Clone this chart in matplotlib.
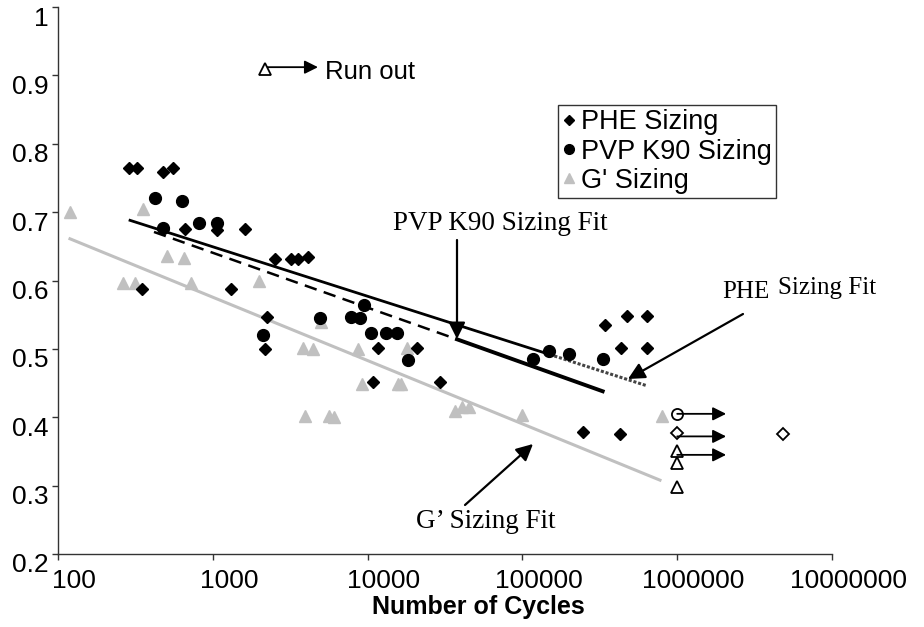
import matplotlib
matplotlib.use("Agg")
import matplotlib.pyplot as plt
import matplotlib.transforms as mtransforms
from matplotlib.lines import Line2D

# PHE sizing (black diamonds)
phe_x = [289, 322, 479, 551, 475, 661, 1060, 1615, 350, 1311, 2533, 3200, 3568, 4103,
         2229, 2175, 11620, 10890, 20760, 29370, 341800, 472000, 635000, 431500, 635000,
         247400, 427000]
phe_y = [0.764, 0.764, 0.759, 0.764, 0.675, 0.675, 0.674, 0.676, 0.587, 0.587, 0.632, 0.632,
         0.632, 0.634, 0.547, 0.500, 0.502, 0.451, 0.501, 0.452, 0.535, 0.548, 0.548, 0.502,
         0.501, 0.379, 0.375]

# PVP K90 sizing (black circles)
pvp_x = [421, 635, 475, 818, 1060, 2100, 4927, 7780, 8930, 9520, 10470, 13150, 15420, 18320,
         117500, 149200, 200000, 330000]
pvp_y = [0.721, 0.717, 0.677, 0.684, 0.684, 0.521, 0.545, 0.547, 0.545, 0.564, 0.523, 0.523,
         0.523, 0.484, 0.485, 0.497, 0.493, 0.485]

# G' sizing (grey triangles)
g_x = [120, 352, 508, 654, 264, 314, 723, 1996, 4978, 3843, 4460, 8710, 9240, 15790, 3940,
       5656, 6067, 18040, 16360, 36700, 40550, 45400, 99800, 801000]
g_y = [0.700, 0.704, 0.636, 0.633, 0.596, 0.596, 0.597, 0.599, 0.539, 0.501, 0.500, 0.500,
       0.448, 0.448, 0.402, 0.402, 0.400, 0.501, 0.448, 0.409, 0.415, 0.415, 0.403, 0.402]

# fit lines (end points, plus the point where the line style changes)
phe_fit_x = [292, 140000, 638000]
phe_fit_y = [0.688, 0.494, 0.446]
pvp_fit_x = [417, 37800, 330000]
pvp_fit_y = [0.671, 0.514, 0.438]
g_fit_x = [119.5, 774000]
g_fit_y = [0.661, 0.308]

# run-out specimens (open markers)
runout_circle_x = [1e6]
runout_circle_y = [0.405]
runout_diamond_x = [1e6, 4.85e6]
runout_diamond_y = [0.377, 0.375]
runout_tri_x = [1e6, 1e6, 1e6]
runout_tri_y = [0.350, 0.333, 0.2975]
runout_arrow_y = [0.405, 0.372, 0.345]
runout_arrow_end = 2.07e6

x_ticks = [100, 1000, 10000, 100000, 1000000, 10000000]
y_ticks = [0.2, 0.3, 0.4, 0.5, 0.6, 0.7, 0.8, 0.9, 1.0]
y_tick_labels = ["0.2", "0.3", "0.4", "0.5", "0.6", "0.7", "0.8", "0.9", "1"]

W, H = 924, 627
SANS = "Liberation Sans"
SERIF = "Liberation Serif"
GREY = "#c0c0c0"

fig = plt.figure(figsize=(W / 100, H / 100), dpi=100)
ax = fig.add_axes([58 / W, (H - 554) / H, 774 / W, 547 / H])

ax.set_xscale("log")
ax.set_xlim(100, 1e7)
ax.set_ylim(0.2, 1.0)

# fit lines
ax.plot(g_fit_x, g_fit_y, color=GREY, lw=2.2, zorder=2)
ax.plot(phe_fit_x[:2], phe_fit_y[:2], color="black", lw=2.0, zorder=2)
ax.plot(phe_fit_x[1:], phe_fit_y[1:], color="#444444", lw=2.2, ls=(0, (1, 0.6)), zorder=2)
ax.plot(pvp_fit_x[:2], pvp_fit_y[:2], color="black", lw=1.8, ls=(0, (5, 3)), zorder=2)
ax.plot(pvp_fit_x[1:], pvp_fit_y[1:], color="black", lw=2.8, zorder=2)

# data
ax.plot(g_x, g_y, ls="none", marker="^", ms=8, color=GREY, mec=GREY, zorder=3)
ax.plot(phe_x, phe_y, ls="none", marker="D", ms=6, color="black", zorder=4)
ax.plot(pvp_x, pvp_y, ls="none", marker="o", ms=8.5, color="black", zorder=4)

# run-outs
open_kw = dict(ls="none", mfc="white", mec="black", mew=1.3, zorder=5)
ax.plot(runout_circle_x, runout_circle_y, marker="o", ms=8, **open_kw)
ax.plot(runout_diamond_x, runout_diamond_y, marker="D", ms=6, **open_kw)
ax.plot(runout_tri_x, runout_tri_y, marker="^", ms=8, **open_kw)
arrow_kw = dict(arrowstyle="-|>", mutation_scale=20, lw=1.3, color="black",
                shrinkA=0, shrinkB=0)
for y in runout_arrow_y:
    ax.annotate("", xy=(runout_arrow_end, y), xytext=(runout_circle_x[0], y),
                arrowprops=arrow_kw, zorder=6)

# run out key
ax.plot([2175], [0.910], marker="^", ms=8, **open_kw)
ax.annotate("", xy=(4780, 0.912), xytext=(2175, 0.912), arrowprops=arrow_kw)
ax.text(5310, 0.905, "Run out", fontsize=18.5, family=SANS, va="center", ha="left")


def fpx(x, y):
    """Figure fraction from pixel position measured from the top-left corner."""
    return x / W, 1 - y / H


# fit labels
fig.text(*fpx(393, 223), "PVP K90 Sizing Fit", fontsize=19.5, family=SERIF, va="center")
fig.text(*fpx(722, 292), "PHE", fontsize=18, family=SERIF, va="center")
fig.text(*fpx(778, 288), "Sizing Fit", fontsize=18, family=SERIF, va="center")
fig.text(*fpx(416, 522), "G\u2019 Sizing Fit", fontsize=19.5, family=SERIF, va="center")

fit_arrow = dict(arrowstyle="-|>", mutation_scale=25, lw=1.6, color="black",
                 shrinkA=0, shrinkB=0)
ax.annotate("", xy=(457, H - 339), xycoords="figure pixels",
            xytext=(457, H - 240), textcoords="figure pixels", arrowprops=fit_arrow)
ax.annotate("", xy=(628, H - 379), xycoords="figure pixels",
            xytext=(743, H - 314), textcoords="figure pixels", arrowprops=fit_arrow)
ax.annotate("", xy=(533, H - 444), xycoords="figure pixels",
            xytext=(465, H - 505), textcoords="figure pixels", arrowprops=fit_arrow)

# legend
handles = [
    Line2D([], [], ls="none", marker="D", ms=5, color="black"),
    Line2D([], [], ls="none", marker="o", ms=7, color="black"),
    Line2D([], [], ls="none", marker="^", ms=7, color=GREY),
]
leg = fig.legend(handles, ["PHE Sizing", "PVP K90 Sizing", "G' Sizing"],
                 loc="lower left", bbox_to_anchor=fpx(558, 198),
                 prop={"family": SANS, "size": 19.5}, frameon=True, fancybox=False,
                 edgecolor="black", borderpad=0.15, handlelength=0.5,
                 handletextpad=0.2, labelspacing=0.12, borderaxespad=0)
leg.get_frame().set_linewidth(1.0)

# axes styling
for side in ("top", "right"):
    ax.spines[side].set_visible(False)
for side in ("left", "bottom"):
    ax.spines[side].set_color("#333333")
    ax.spines[side].set_linewidth(1.0)

ax.set_xticks(x_ticks)
ax.set_xticklabels([str(v) for v in x_ticks])
ax.xaxis.set_minor_locator(matplotlib.ticker.NullLocator())
ax.set_yticks(y_ticks)
ax.set_yticklabels(y_tick_labels)
ax.tick_params(direction="out", length=4, width=1, color="#333333", labelsize=19)
ax.tick_params(axis="x", pad=7)
ax.tick_params(axis="y", pad=3)
for lab in ax.get_xticklabels() + ax.get_yticklabels():
    lab.set_family(SANS)

dx = mtransforms.ScaledTranslation(0.16, 0, fig.dpi_scale_trans)
for lab in ax.get_xticklabels():
    lab.set_transform(lab.get_transform() + dx)
dy = mtransforms.ScaledTranslation(0, -0.09, fig.dpi_scale_trans)
for lab in ax.get_yticklabels():
    lab.set_transform(lab.get_transform() + dy)

fig.text(*fpx(478, 607), "Number of Cycles", fontsize=18, fontweight="bold",
         family=SANS, ha="center", va="center")

fig.savefig("out.png", dpi=100)
